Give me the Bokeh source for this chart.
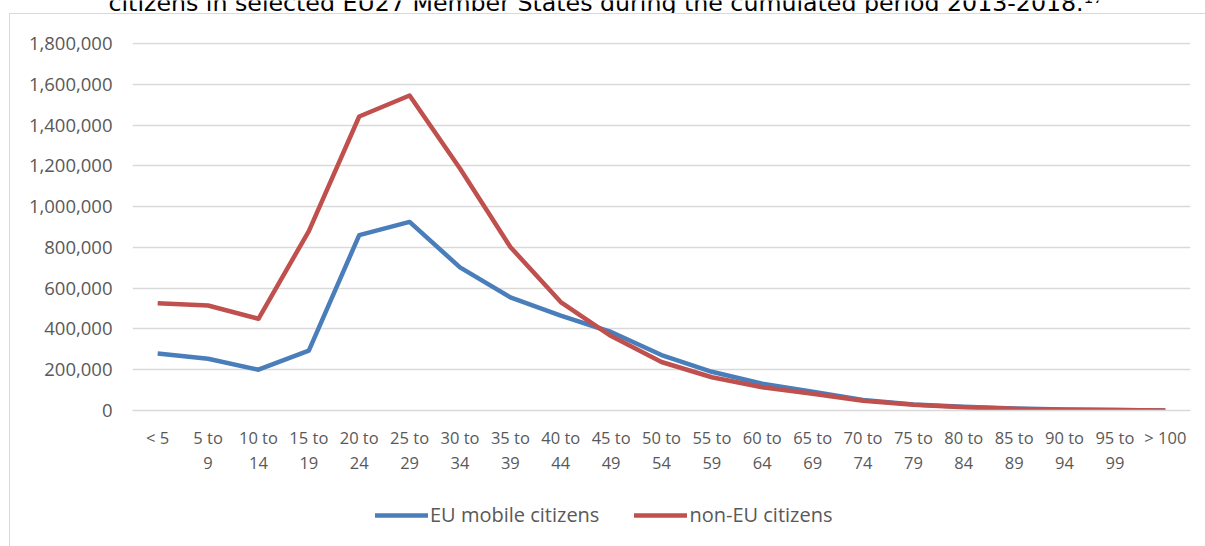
from bokeh.plotting import figure
from bokeh.models import (ColumnDataSource, Range1d, NumeralTickFormatter, Legend, LegendItem,
                          FixedTicker, LinearAxis, Label)
from bokeh.embed import file_html
from bokeh.resources import INLINE

categories = ["< 5", "5 to 9", "10 to 14", "15 to 19", "20 to 24", "25 to 29", "30 to 34",
              "35 to 39", "40 to 44", "45 to 49", "50 to 54", "55 to 59", "60 to 64",
              "65 to 69", "70 to 74", "75 to 79", "80 to 84", "85 to 89", "90 to 94",
              "95 to 99", "> 100"]
eu_mobile = [280000, 254000, 200000, 294000, 860000, 925000, 702000, 555000, 465000, 385000,
             272000, 190000, 131000, 92000, 52000, 30000, 18000, 10000, 5000, 2000, 500]
non_eu = [526000, 515000, 450000, 880000, 1442000, 1545000, 1187000, 802000, 532000, 365000,
          238000, 163000, 114000, 82000, 48000, 28000, 16000, 8000, 4000, 2000, 500]
y_ticks = [0, 200000, 400000, 600000, 800000, 1000000, 1200000, 1400000, 1600000, 1800000]
title_text = "citizens in selected EU27 Member States during the cumulated period 2013-2018.\u00b9\u2077"
series_names = ["EU mobile citizens", "non-EU citizens"]
series_colors = ["#4a7ebb", "#c0504d"]

FONT = "Open Sans"
GREY = "#595959"
GRID = "#d9d9d9"
W = 1205

# category slot centres on the x scale
xpos = [i + 0.5 for i in range(len(categories))]
line1 = {x: (c.split(" to ")[0] + " to" if " to " in c else c) for x, c in zip(xpos, categories)}
line2 = {x: (c.split(" to ")[1] if " to " in c else "") for x, c in zip(xpos, categories)}

src = ColumnDataSource(dict(x=xpos, cat=categories, eu=eu_mobile, non=non_eu))


def strip(height):
    f = figure(width=W, height=height, x_range=(0, W), y_range=(0, height),
               output_backend="svg", toolbar_location=None, min_border=0)
    f.axis.visible = False
    f.grid.visible = False
    f.outline_line_color = None
    f.background_fill_color = None
    f.border_fill_color = None
    return f


# ---- title strip (title cut off at the top edge, as in the reference)
p0 = strip(13)
p0.add_layout(Label(x=108, y=11, text=title_text, text_align="left", text_baseline="alphabetic",
                    text_font="DejaVu Sans", text_font_size="23.7px", text_color="#000000"))

# ---- main chart
p = figure(width=W, height=477, x_range=Range1d(0, len(categories)),
           y_range=Range1d(0, 1805000), output_backend="svg", toolbar_location=None,
           min_border_left=132, min_border_right=15, min_border_top=29, min_border_bottom=80)
p.outline_line_color = None
p.background_fill_color = "white"
p.border_fill_color = None
p.styles = {
    "background-image": f"linear-gradient({GRID}, {GRID}), linear-gradient({GRID}, {GRID})",
    "background-size": "1px 100%, 100% 1px",
    "background-position": "9px 0px, 9px 0px",
    "background-repeat": "no-repeat",
}

r_eu = p.line("x", "eu", source=src, line_color=series_colors[0], line_width=4.5, line_join="round")
r_non = p.line("x", "non", source=src, line_color=series_colors[1], line_width=4.5, line_join="round")

p.yaxis.ticker = FixedTicker(ticks=y_ticks)
p.yaxis.formatter = NumeralTickFormatter(format="0,0")
p.yaxis.axis_line_color = None
p.yaxis.major_tick_line_color = None
p.yaxis.major_tick_out = 0
p.yaxis.minor_tick_line_color = None
p.yaxis.major_label_text_font = FONT
p.yaxis.major_label_text_font_size = "18.5px"
p.yaxis.major_label_text_color = GREY
p.yaxis.major_label_standoff = 20

xa = p.xaxis[0]
xa.ticker = FixedTicker(ticks=xpos)
xa.major_label_overrides = line1
xa.axis_line_color = GRID
xa.axis_line_width = 1.5
xa.major_tick_line_color = None
xa.major_tick_out = 0
xa.major_tick_in = 0
xa.minor_tick_line_color = None
xa.major_label_text_font = FONT
xa.major_label_text_font_size = "16.5px"
xa.major_label_text_color = GREY
xa.major_label_standoff = 15

xa2 = LinearAxis(ticker=FixedTicker(ticks=xpos), major_label_overrides=line2,
                 axis_line_color=None, major_tick_line_color=None, major_tick_out=0,
                 major_tick_in=0, minor_tick_line_color=None, major_label_text_font=FONT,
                 major_label_text_font_size="16.5px", major_label_text_color=GREY,
                 major_label_standoff=5)
p.add_layout(xa2, "below")

p.xgrid.grid_line_color = None
p.ygrid.grid_line_color = GRID
p.ygrid.grid_line_width = 1.5

# ---- legend strip
p2 = strip(56)
p2.styles = {
    "background-image": f"linear-gradient({GRID}, {GRID})",
    "background-size": "1px 100%",
    "background-position": "9px 0px",
    "background-repeat": "no-repeat",
}
# legend keys: the same series, drawn outside this strip's visible range
k1 = p2.line("x", "eu", source=src, line_color=series_colors[0], line_width=4.5, line_cap="round")
k2 = p2.line("x", "non", source=src, line_color=series_colors[1], line_width=4.5, line_cap="round")
legend = Legend(items=[LegendItem(label=series_names[0], renderers=[k1]),
                       LegendItem(label=series_names[1], renderers=[k2])],
                orientation="horizontal", location=(375, 18),
                glyph_width=53, glyph_height=24, label_standoff=2, spacing=35,
                padding=0, margin=0, border_line_color=None, background_fill_alpha=0,
                label_text_font=FONT, label_text_font_size="20px", label_text_color=GREY)
p2.add_layout(legend, "center")

open("out.html", "w").write(file_html([p0, p, p2], INLINE))
